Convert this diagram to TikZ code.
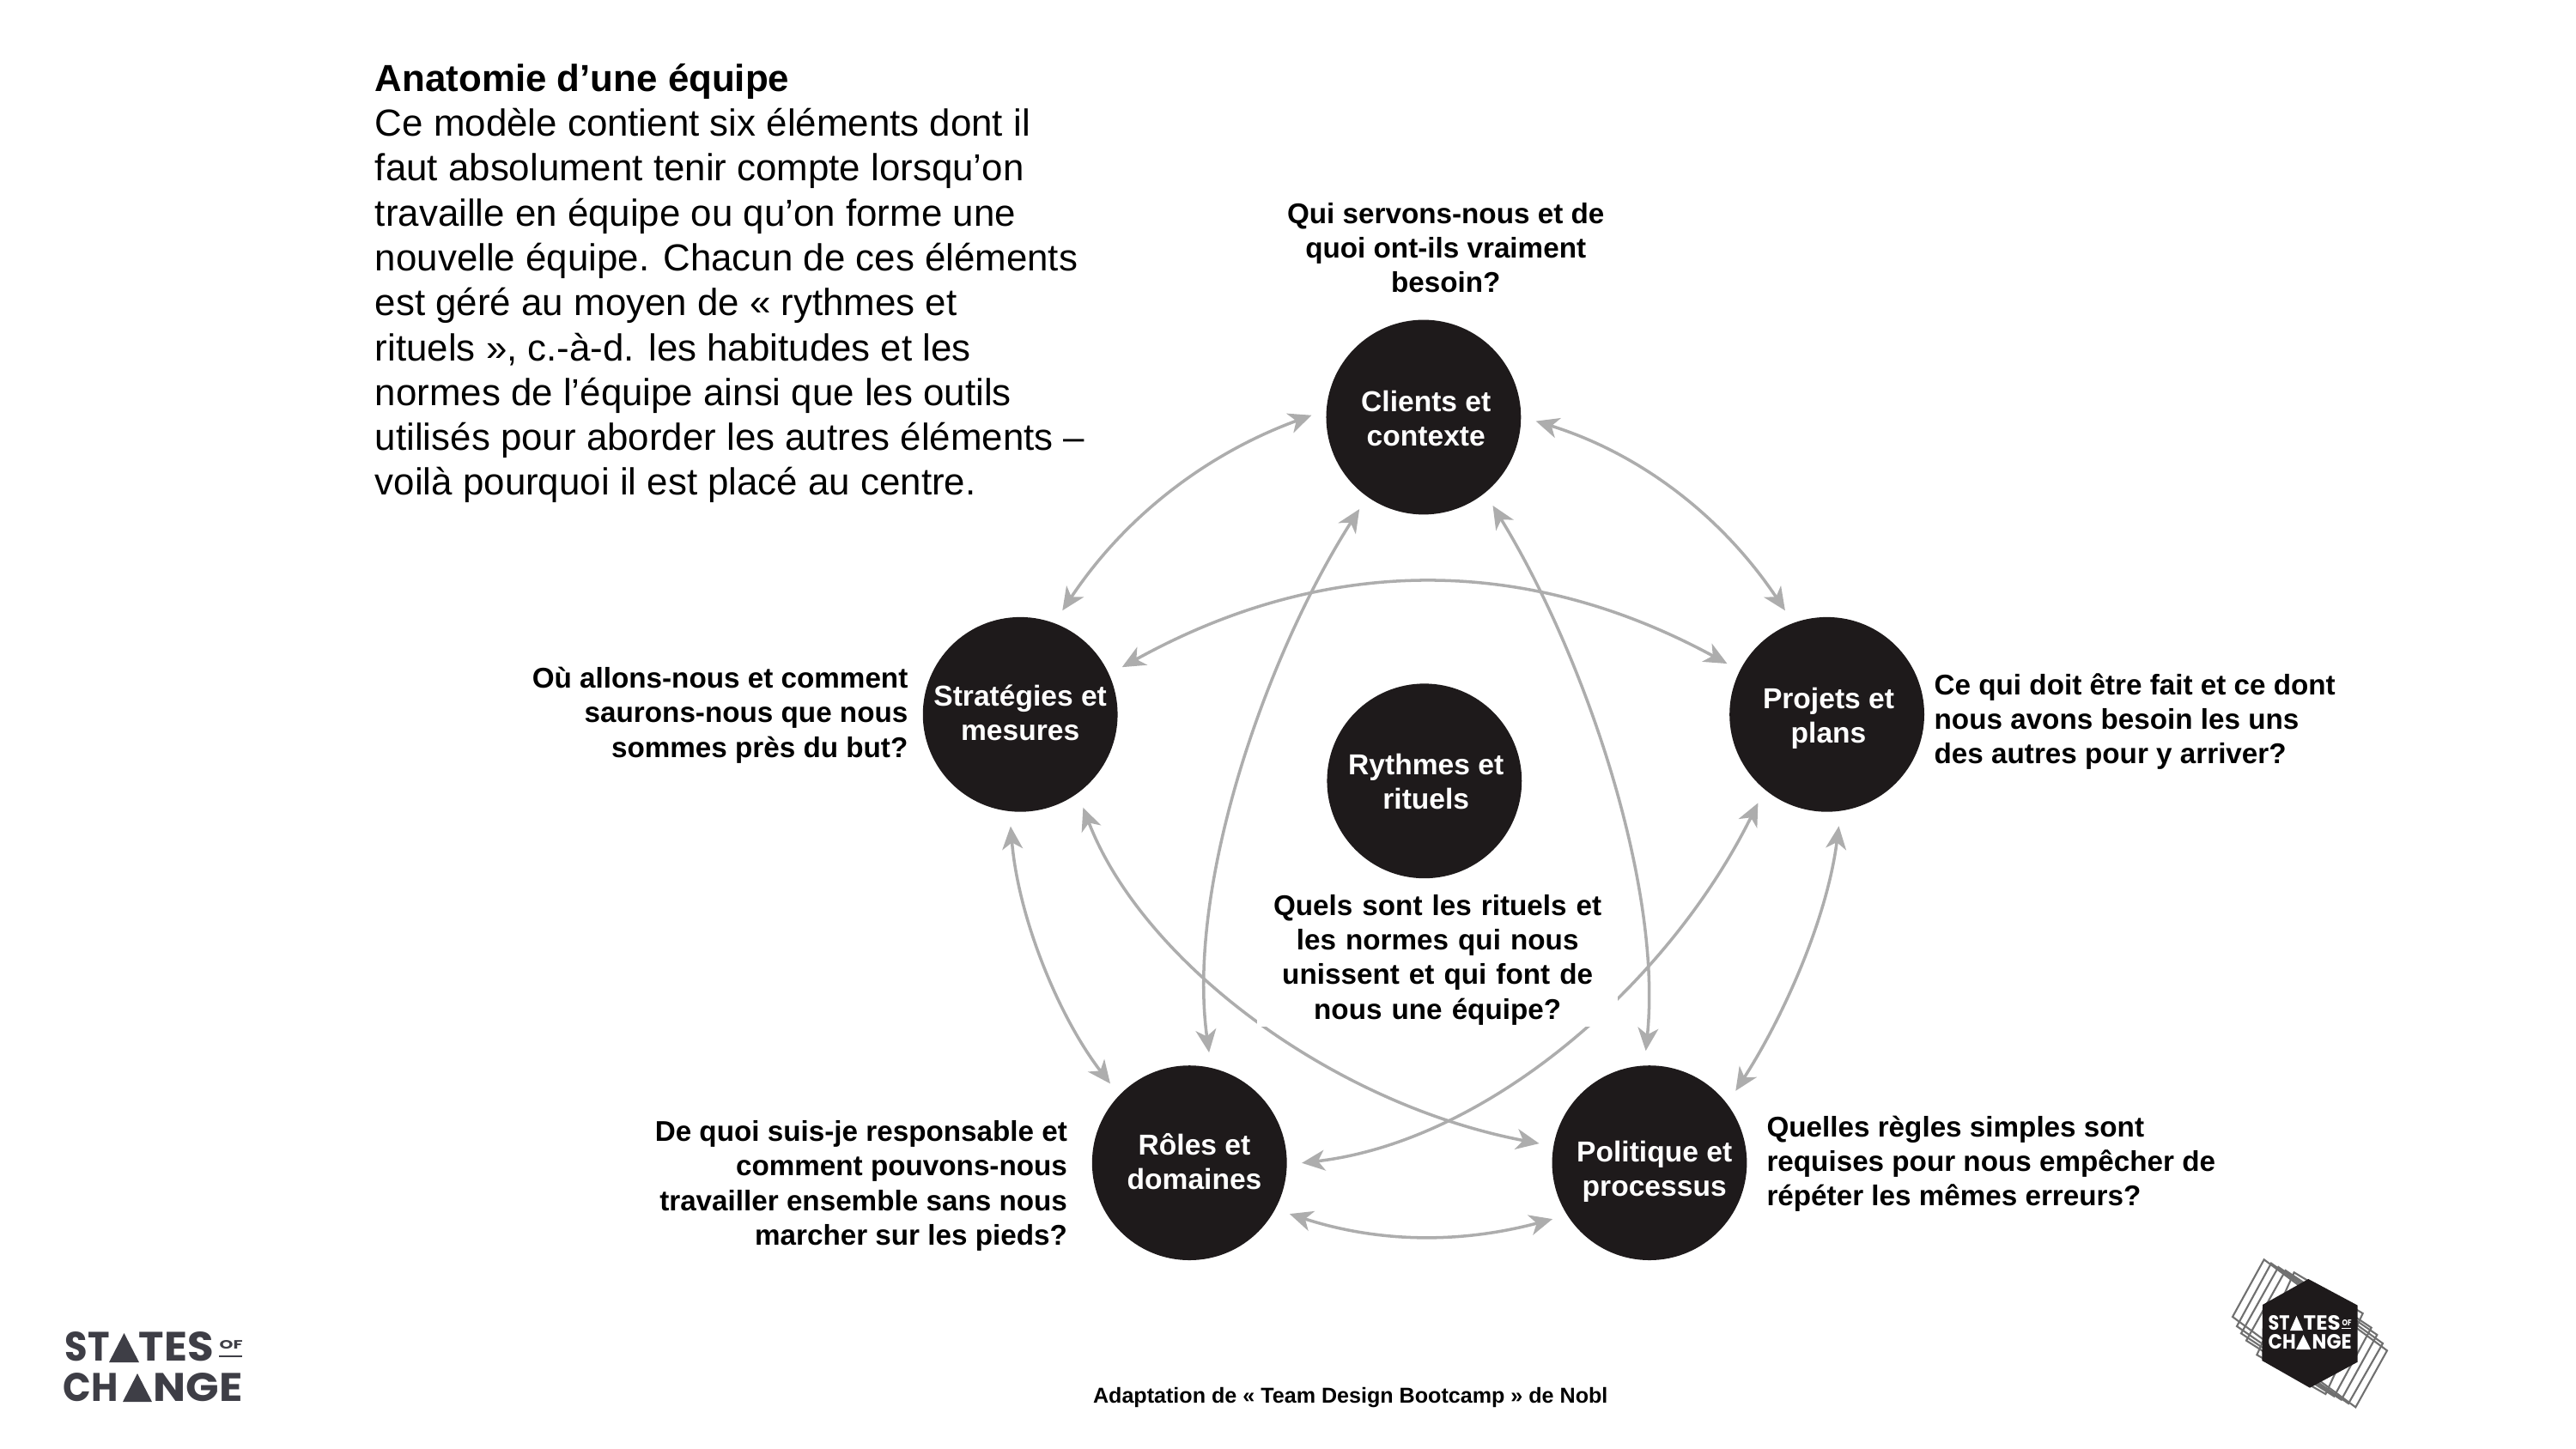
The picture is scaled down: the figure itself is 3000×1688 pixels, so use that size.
\documentclass[tikz,border=0pt]{standalone}
\usepackage{fontspec}
\usepackage{graphicx}
\usetikzlibrary{arrows.meta}
\setmainfont{Liberation Sans}
\newfontfamily\logofont{Poppins}
\definecolor{discblack}{HTML}{1E1A1B}
\definecolor{linkgray}{HTML}{ADADAD}
\definecolor{logogray}{HTML}{3E3E46}
\definecolor{squaregray}{HTML}{707070}
\newdimen\pxu \pxu=0.01cm
\tikzset{
  disc/.style={circle,fill=discblack,minimum size=64.5pt,inner sep=0pt,outer sep=4.9pt},
  disctext/.style={text=white,font=\fontsize{9.55}{11.4}\selectfont\bfseries,align=center,inner sep=0pt},
  link/.style={draw=linkgray,line width=1pt,{Stealth[inset=2.2pt,length=7.6pt,width=6.8pt]}-{Stealth[inset=2.2pt,length=7.6pt,width=6.8pt]}},
  ask/.style={font=\fontsize{9.45}{11.4}\selectfont\bfseries,inner sep=0pt},
  bodytext/.style={font=\fontsize{12.47}{14.87}\selectfont,align=left,inner sep=0pt,anchor=west},
  lg/.style={inner sep=0pt,anchor=south west},
  hexsquare/.style={draw=squaregray,line width=0.6pt,line join=miter}
}
% name, x, y-bottom, width, height, colour, text
\newcommand{\lgword}[7]{\node[lg,text=#6] (#1) at (#2,#3) {\resizebox{#4\pxu}{#5\pxu}{\logofont\bfseries #7}};}
\begin{document}
\begin{tikzpicture}[x=0.01cm,y=-0.01cm]
\useasboundingbox (0,0) rectangle (3000,1688);
\begin{scope}[scale=1.9133]
  \node[disc] (clients) at (866.5,254) {};
  \node[disc] (strat) at (621,435) {};
  \node[disc] (projets) at (1112,435) {};
  \node[disc] (rythmes) at (867,475.5) {};
  \node[disc] (roles) at (724,708) {};
  \node[disc] (pol) at (1004,708) {};

  \draw[link] (clients.-2.5) .. controls (998,276) and (1048,314) .. (projets.112.8);
  \draw[link] (clients.179) .. controls (735,276) and (685,314) .. (strat.68);
  \draw[link] (strat.25) .. controls (806,338) and (928,337) .. (projets.153);
  \draw[link] (clients.-52) .. controls (965,400) and (1012,540) .. (pol.92.5);
  \draw[link] (clients.-125.5) .. controls (770,400) and (722,540) .. (roles.80);
  \draw[link] (strat.-56) .. controls (695,585) and (810,672) .. (pol.170);
  \draw[link] (projets.-128) .. controls (1015,600) and (905,695) .. (roles.0);
  \draw[link] (strat.-95) .. controls (620,560) and (645,620) .. (roles.135);
  \draw[link] (projets.-84) .. controls (1112,560) and (1085,620) .. (pol.40);
  \draw[link] (roles.-27.7) .. controls (840,757) and (890,757) .. (pol.210);

  \node[ask,align=center,fill=white,text width=119.3pt,minimum height=44pt] (qcentre) at (875,584.5)
    {Quels sont les rituels et\\les normes qui nous\\unissent et qui font de\\nous une équipe?};

  \node[disctext] (tclients) at (868,255) {Clients et\\contexte};
  \node[disctext] (tstrat) at (621,434) {Stratégies et\\mesures};
  \node[disctext] (tprojets) at (1113,437.5) {Projets et\\plans};
  \node[disctext] (trythmes) at (868,476) {Rythmes et\\rituels};
  \node[disctext] (troles) at (727,707) {Rôles et\\domaines};
  \node[disctext] (tpol) at (1007,713.5) {Politique et\\processus};

  \node[ask,align=center] (qclients) at (880,151) {Qui servons-nous et de\\quoi ont-ils vraiment\\besoin?};
  \node[ask,align=right,anchor=east] (qstrat) at (553,435.5) {Où allons-nous et comment\\saurons-nous que nous\\sommes près du but?};
  \node[ask,align=left,anchor=west] (qprojets) at (1177,439.5) {Ce qui doit être fait et ce dont\\nous avons besoin les uns\\des autres pour y arriver?};
  \node[ask,align=left,anchor=west] (qpol) at (1075,708.5) {Quelles règles simples sont\\requises pour nous empêcher de\\répéter les mêmes erreurs?};
  \node[ask,align=right,anchor=east] (qroles) at (650,722) {De quoi suis-je responsable et\\comment pouvons-nous\\travailler ensemble sans nous\\marcher sur les pieds?};

  \node[bodytext] (intro) at (228,172.5) {\textbf{Anatomie d’une équipe}\\Ce modèle contient six éléments dont il\\faut absolument tenir compte lorsqu’on\\travaille en équipe ou qu’on forme une\\nouvelle équipe. Chacun de ces éléments\\est géré au moyen de «~rythmes et\\rituels~», c.-à-d. les habitudes et les\\normes de l’équipe ainsi que les outils\\utilisés pour aborder les autres éléments –\\voilà pourquoi il est placé au centre.};

  \node[font=\fontsize{7.14}{8}\selectfont\bfseries,inner sep=0pt] (credit) at (822,851) {Adaptation de «~Team Design Bootcamp~» de Nobl};
\end{scope}

% left logo
\lgword{lst}{75}{1587}{52}{34}{logogray}{ST}
\fill[logogray] (127,1587) -- (144.5,1553) -- (162,1587) -- cycle;
\lgword{ltes}{161}{1587}{87}{34}{logogray}{TES}
\lgword{lof}{255}{1572}{27}{10}{logogray}{OF}
\fill[logogray] (255,1578.5) rectangle (282,1581);
\lgword{lch}{73}{1633}{64}{33}{logogray}{CH}
\fill[logogray] (143,1633) -- (160,1600) -- (177,1633) -- cycle;
\lgword{lnge}{178}{1633}{104}{33}{logogray}{NGE}

% right logo
\begin{scope}[shift={(2600,1450)},scale=0.3333]
  \draw[hexsquare] (110,52) -- (540,370) -- (430,568) -- (0,252) -- cycle;
  \draw[hexsquare] (135,65) -- (525,345) -- (405,555) -- (15,285) -- cycle;
  \draw[hexsquare] (160,78) -- (505,315) -- (380,542) -- (30,310) -- cycle;
  \draw[hexsquare] (185,90) -- (485,290) -- (355,530) -- (48,335) -- cycle;
  \draw[hexsquare] (215,97) -- (455,240) -- (325,522) -- (85,385) -- cycle;
  \fill[discblack] (265,120) -- (437,212) -- (437,410) -- (270,500) -- (103,405) -- (105,210) -- cycle;
\end{scope}
\lgword{rst}{2641}{1550}{25}{17}{white}{ST}
\fill[white] (2667,1550) -- (2674.5,1533) -- (2682,1550) -- cycle;
\lgword{rtes}{2682}{1550}{43}{17}{white}{TES}
\lgword{rof}{2727}{1545}{11}{7}{white}{OF}
\fill[white] (2727,1546.5) rectangle (2738,1547.5);
\lgword{rch}{2641}{1572}{32}{17}{white}{CH}
\fill[white] (2674,1572) -- (2682.5,1555) -- (2691,1572) -- cycle;
\lgword{rnge}{2692}{1572}{46}{17}{white}{NGE}
\end{tikzpicture}
\end{document}
